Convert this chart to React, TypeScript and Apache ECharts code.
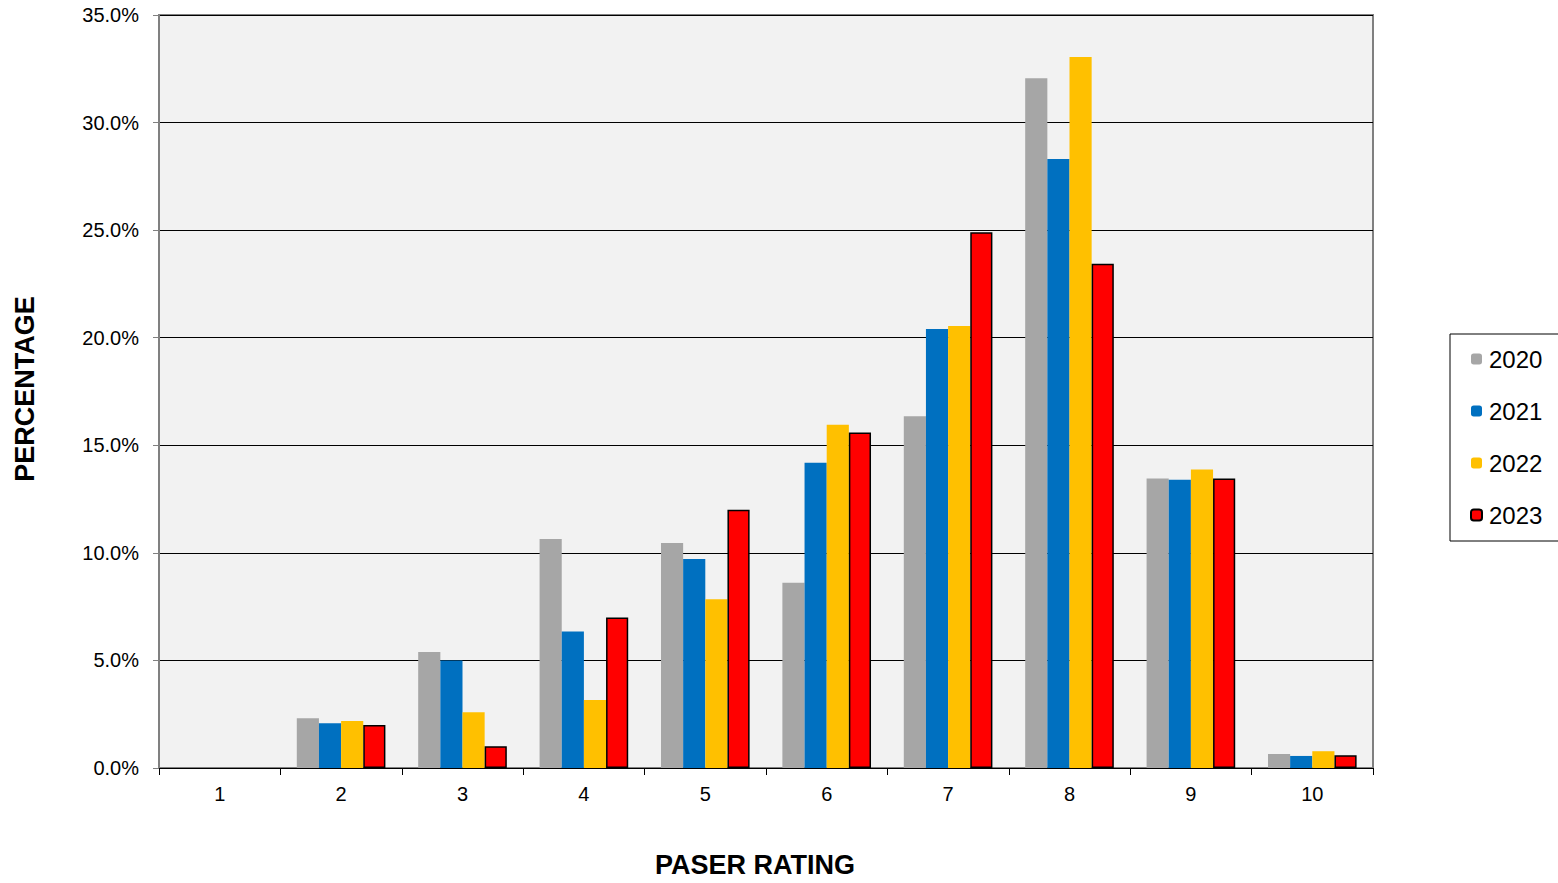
import React, { useEffect, useRef } from "react";
import * as echarts from "echarts";

const categories = ["1", "2", "3", "4", "5", "6", "7", "8", "9", "10"];
const years = ["2020", "2021", "2022", "2023"];
const values2020 = [0, 2.31, 5.39, 10.64, 10.46, 8.61, 16.35, 32.06, 13.46, 0.65];
const values2021 = [0, 2.08, 5.0, 6.34, 9.71, 14.19, 20.4, 28.31, 13.4, 0.56];
const values2022 = [0, 2.18, 2.59, 3.16, 7.84, 15.96, 20.55, 33.05, 13.88, 0.78];
const values2023 = [0, 2.0, 1.01, 7.0, 12.0, 15.6, 24.9, 23.44, 13.46, 0.59];
const seriesValues = [values2020, values2021, values2022, values2023];
const colors = ["#A6A6A6", "#0070C0", "#FFC000", "#FF0000"];

export default function App() {
  const ref = useRef<HTMLDivElement>(null);
  useEffect(() => {
    if (!ref.current) return;
    const chart = echarts.init(ref.current, null, { renderer: "svg" });
    const font = "Arial, 'Liberation Sans', sans-serif";
    chart.setOption({
      animation: false,
      textStyle: { fontFamily: font },
      grid: {
        left: 159,
        top: 15,
        right: 185,
        bottom: 115,
        show: true,
        backgroundColor: "#F2F2F2",
        borderColor: "#808080",
        borderWidth: 2,
      },
      legend: {
        orient: "vertical",
        left: 1450,
        top: 334,
        data: years,
        itemWidth: 11,
        itemHeight: 11,
        itemGap: 28,
        padding: [13, 30, 14, 20],
        borderColor: "#000",
        borderWidth: 1,
        backgroundColor: "#fff",
        textStyle: { fontSize: 24, color: "#000", fontFamily: font, lineHeight: 22, padding: [0, 0, 0, 2] },
      },
      xAxis: {
        type: "category",
        data: categories,
        axisLine: { lineStyle: { color: "#000", width: 1 } },
        axisTick: { show: true, length: 7, lineStyle: { color: "#000" } },
        axisLabel: { fontSize: 20, color: "#000", margin: 16, fontFamily: font },
      },
      yAxis: {
        type: "value",
        min: 0,
        max: 35,
        interval: 5,
        axisLine: { show: true, lineStyle: { color: "#808080", width: 2 } },
        axisTick: { show: true, length: 6, lineStyle: { color: "#808080" } },
        axisLabel: {
          fontSize: 20,
          color: "#000",
          margin: 20,
          fontFamily: font,
          formatter: (v: number) => v.toFixed(1) + "%",
        },
        splitLine: { show: true, lineStyle: { color: "#000", width: 1 } },
      },
      series: years.map((y, i) => ({
        name: y,
        type: "bar",
        data: seriesValues[i].map((v) => (v === 0 ? null : v)),
        barGap: "0%",
        barCategoryGap: "27%",
        itemStyle:
          i === 3
            ? { color: colors[i], borderColor: "#000", borderWidth: 1.5 }
            : { color: colors[i], borderWidth: 0 },
      })),
      graphic: [
        {
          type: "text",
          x: 25,
          y: 389,
          rotation: Math.PI / 2,
          style: {
            text: "PERCENTAGE",
            fontSize: 27,
            fontWeight: "bold",
            fontFamily: font,
            fill: "#000",
            align: "center",
            verticalAlign: "middle",
          },
        },
        {
          type: "text",
          x: 755,
          y: 865,
          style: {
            text: "PASER RATING",
            fontSize: 27,
            fontWeight: "bold",
            fontFamily: font,
            fill: "#000",
            align: "center",
            verticalAlign: "middle",
          },
        },
      ],
    });
    return () => chart.dispose();
  }, []);
  return (
    <div
      ref={ref}
      style={{ position: "fixed", left: 0, top: 0, width: 1558, height: 883, background: "#fff" }}
    />
  );
}
